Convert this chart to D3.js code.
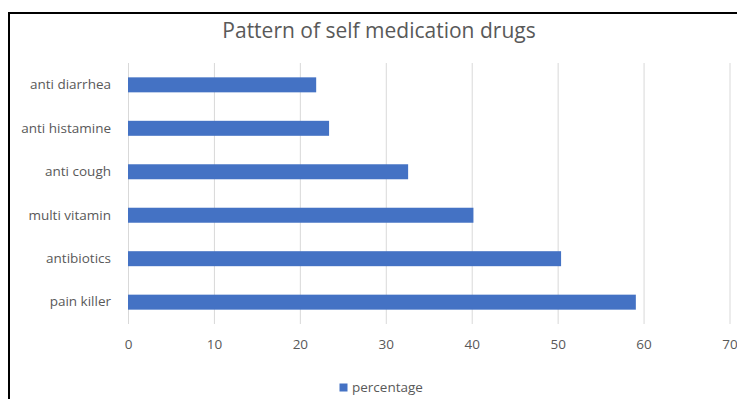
<!DOCTYPE html>
<html>
<head>
<meta charset="utf-8">
<script src="https://cdn.jsdelivr.net/npm/d3@7"></script>
<style>
  html, body { margin: 0; padding: 0; background: #fff; }
  svg { display: block; }
  text { font-family: "Open Sans", "Liberation Sans", sans-serif; fill: #595959; }
</style>
</head>
<body>
<script>
const title = "Pattern of self medication drugs";
const categories = ["anti diarrhea", "anti histamine", "anti cough", "multi vitamin", "antibiotics", "pain killer"];
const percentage = [21.9, 23.4, 32.6, 40.2, 50.4, 59.1];
const xTicks = [0, 10, 20, 30, 40, 50, 60, 70];
const seriesName = "percentage";

const W = 737, H = 399;
const svg = d3.select("body").append("svg").attr("width", W).attr("height", H);

// chart border (top and left)
svg.append("line").attr("x1", 8).attr("x2", W).attr("y1", 13).attr("y2", 13)
  .attr("stroke", "#000").attr("stroke-width", 2);
svg.append("line").attr("x1", 9).attr("x2", 9).attr("y1", 12).attr("y2", H)
  .attr("stroke", "#000").attr("stroke-width", 2);

const x = d3.scaleLinear().domain([0, 70]).range([128, 729.5]);
const y = d3.scaleBand().domain(categories).range([63, 324]).paddingInner(0.655).paddingOuter(0.33);

svg.append("text").attr("x", 379).attr("y", 38).attr("text-anchor", "middle")
  .style("font-size", "21px").text(title);

// gridlines
svg.append("g").selectAll("line").data(xTicks).join("line")
  .attr("x1", d => x(d) + 0.5).attr("x2", d => x(d) + 0.5)
  .attr("y1", 63).attr("y2", 324)
  .attr("stroke", "#d9d9d9").attr("stroke-width", 1);

// x axis labels
const xAxis = d3.axisBottom(x).tickValues(xTicks).tickSize(0).tickPadding(0);
const gx = svg.append("g").attr("transform", "translate(0,341)").call(xAxis);
gx.select(".domain").remove();
gx.selectAll("text").style("font-size", "13.5px").attr("fill", "#595959").attr("dy", "0.6em")
  .style("font-family", "'Open Sans', sans-serif");

// y axis labels
const yAxis = d3.axisLeft(y).tickSize(0).tickPadding(0);
const gy = svg.append("g").attr("transform", "translate(111,0)").call(yAxis);
gy.select(".domain").remove();
gy.selectAll("text").style("font-size", "13.5px").attr("fill", "#595959")
  .style("font-family", "'Open Sans', sans-serif");

// bars
svg.append("g").selectAll("rect").data(categories).join("rect")
  .attr("x", x(0)).attr("y", d => y(d))
  .attr("width", (d, i) => x(percentage[i]) - x(0))
  .attr("height", y.bandwidth())
  .attr("fill", "#4472C4");

// legend
svg.append("rect").attr("x", 339.5).attr("y", 383.5).attr("width", 8).attr("height", 8).attr("fill", "#4472C4");
svg.append("text").attr("x", 352).attr("y", 392).style("font-size", "13.5px").text(seriesName);
</script>
</body>
</html>
